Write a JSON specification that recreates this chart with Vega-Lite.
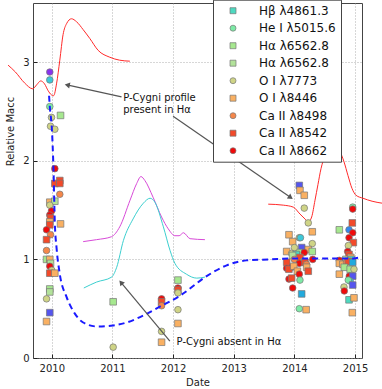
{
"$schema": "https://vega.github.io/schema/vega-lite/v6.json",
"width": 329, "height": 355,
"autosize": {"type": "none"},
"padding": {"left": 33, "top": 3, "right": 20, "bottom": 31},
"config": {
  "font": "DejaVu Sans",
  "view": {"stroke": "#444", "strokeWidth": 1},
  "axis": {"labelFont": "DejaVu Sans", "labelFontSize": 10, "labelColor": "#222", "titleFont": "DejaVu Sans", "titleFontSize": 10, "titleFontWeight": "normal", "titleColor": "#222", "domain": false, "tickSize": -4, "tickColor": "#222", "gridColor": "#999", "gridDash": [1, 2], "gridWidth": 0.8}
},
"datasets": {
  "points": [
    {"line":"HeI4471","date":2009.967,"value":2.90},
    {"line":"FeII","date":2009.967,"value":2.82},
    {"line":"HeI5015","date":2009.967,"value":2.55},
    {"line":"OI7773","date":2009.995,"value":2.44},
    {"line":"Ha","date":2010.144,"value":2.46},
    {"line":"OI7773","date":2009.979,"value":2.35},
    {"line":"OI7773","date":2010.05,"value":2.32},
    {"line":"CaII8662","date":2010.05,"value":1.92},
    {"line":"CaII8542","date":2010.05,"value":1.77},
    {"line":"CaII8542","date":2010.132,"value":1.80},
    {"line":"CaII8542","date":2010.132,"value":1.77},
    {"line":"CaII8498","date":2010.132,"value":1.66},
    {"line":"OI8446","date":2009.967,"value":1.58},
    {"line":"Ha2","date":2010.05,"value":1.59},
    {"line":"OI7773","date":2009.967,"value":1.55},
    {"line":"CaII8662","date":2009.995,"value":1.49},
    {"line":"CaII8662","date":2009.967,"value":1.45},
    {"line":"CaII8542","date":2009.979,"value":1.42},
    {"line":"OI8446","date":2009.967,"value":1.38},
    {"line":"CaII8542","date":2009.967,"value":1.35},
    {"line":"OI8446","date":2010.144,"value":1.36},
    {"line":"CaII8662","date":2009.913,"value":1.30},
    {"line":"CaII8498","date":2009.979,"value":1.25},
    {"line":"CaII8542","date":2009.913,"value":1.20},
    {"line":"CaII8498","date":2009.913,"value":1.09},
    {"line":"Ha","date":2009.913,"value":1.00},
    {"line":"OI8446","date":2009.967,"value":1.00},
    {"line":"Ha2","date":2009.979,"value":0.96},
    {"line":"CaII8662","date":2009.967,"value":0.93},
    {"line":"OI7773","date":2010.0,"value":0.89},
    {"line":"CaII8542","date":2009.967,"value":0.86},
    {"line":"OI8446","date":2010.05,"value":0.86},
    {"line":"Ha","date":2009.967,"value":0.70},
    {"line":"Ha2","date":2009.967,"value":0.67},
    {"line":"OI7773","date":2009.913,"value":0.60},
    {"line":"Hd","date":2009.967,"value":0.46},
    {"line":"OI8446","date":2009.913,"value":0.37},
    {"line":"Ha","date":2011.012,"value":0.57},
    {"line":"OI7773","date":2011.012,"value":0.11},
    {"line":"CaII8662","date":2011.81,"value":0.60},
    {"line":"CaII8542","date":2011.81,"value":0.57},
    {"line":"CaII8498","date":2011.81,"value":0.53},
    {"line":"OI7773","date":2011.81,"value":0.27},
    {"line":"OI8446","date":2011.81,"value":0.16},
    {"line":"Ha","date":2012.08,"value":0.79},
    {"line":"CaII8662","date":2012.08,"value":0.71},
    {"line":"CaII8542","date":2012.08,"value":0.69},
    {"line":"OI7773","date":2012.08,"value":0.66},
    {"line":"OI7773","date":2012.08,"value":0.49},
    {"line":"OI8446","date":2012.08,"value":0.35},
    {"line":"Hd","date":2014.081,"value":1.75},
    {"line":"OI8446","date":2014.092,"value":1.70},
    {"line":"OI8446","date":2014.163,"value":1.65},
    {"line":"OI7773","date":2014.163,"value":1.52},
    {"line":"OI7773","date":2014.229,"value":1.37},
    {"line":"OI8446","date":2014.295,"value":1.28},
    {"line":"OI8446","date":2013.911,"value":1.25},
    {"line":"OI7773","date":2014.081,"value":1.22},
    {"line":"FeII","date":2014.10,"value":1.22},
    {"line":"OI8446","date":2013.972,"value":1.18},
    {"line":"OI7773","date":2014.295,"value":1.16},
    {"line":"OI8446","date":2013.873,"value":1.08},
    {"line":"OI7773","date":2013.955,"value":1.06},
    {"line":"Hd","date":2014.12,"value":1.12},
    {"line":"Ha","date":2014.081,"value":1.07},
    {"line":"OI8446","date":2014.229,"value":1.10},
    {"line":"CaII8662","date":2014.163,"value":1.07},
    {"line":"Ha","date":2014.295,"value":1.08},
    {"line":"OI7773","date":2014.0,"value":1.12},
    {"line":"Hb","date":2014.03,"value":1.05},
    {"line":"Ha2","date":2013.97,"value":1.04},
    {"line":"CaII8542","date":2014.092,"value":1.02},
    {"line":"CaII8498","date":2014.0,"value":1.0},
    {"line":"HeI5015","date":2014.15,"value":0.98},
    {"line":"CaII8662","date":2014.081,"value":0.96},
    {"line":"CaII8542","date":2013.873,"value":0.97},
    {"line":"CaII8662","date":2013.955,"value":0.92},
    {"line":"CaII8662","date":2013.873,"value":0.91},
    {"line":"CaII8542","date":2013.91,"value":0.90},
    {"line":"OI8446","date":2013.99,"value":0.93},
    {"line":"CaII8542","date":2014.175,"value":0.97},
    {"line":"CaII8498","date":2014.2,"value":0.95},
    {"line":"CaII8662","date":2014.302,"value":1.00},
    {"line":"OI8446","date":2014.203,"value":0.92},
    {"line":"CaII8542","date":2014.229,"value":0.88},
    {"line":"OI8446","date":2014.05,"value":0.88},
    {"line":"CaII8662","date":2014.081,"value":0.85},
    {"line":"CaII8662","date":2013.911,"value":0.80},
    {"line":"CaII8542","date":2013.955,"value":0.81},
    {"line":"HeI5015","date":2014.092,"value":0.79},
    {"line":"CaII8662","date":2013.972,"value":0.71},
    {"line":"Hg","date":2014.12,"value":0.65},
    {"line":"HeI5015","date":2014.081,"value":0.50},
    {"line":"OI8446","date":2014.194,"value":0.49},
    {"line":"HeI5015","date":2014.962,"value":1.53},
    {"line":"CaII8662","date":2014.962,"value":1.51},
    {"line":"CaII8542","date":2014.955,"value":1.37},
    {"line":"Ha","date":2014.741,"value":1.30},
    {"line":"HeI4922","date":2014.901,"value":1.30},
    {"line":"CaII8662","date":2014.962,"value":1.27},
    {"line":"CaII8662","date":2014.901,"value":1.22},
    {"line":"CaII8542","date":2014.972,"value":1.17},
    {"line":"OI7773","date":2014.89,"value":1.14},
    {"line":"CaII8662","date":2014.879,"value":1.08},
    {"line":"CaII8542","date":2014.901,"value":1.05},
    {"line":"Ha2","date":2014.85,"value":1.0},
    {"line":"OI8446","date":2014.93,"value":1.02},
    {"line":"Hb","date":2014.94,"value":1.0},
    {"line":"CaII8662","date":2014.741,"value":0.99},
    {"line":"OI8446","date":2014.741,"value":0.96},
    {"line":"OI8446","date":2014.80,"value":0.95},
    {"line":"CaII8498","date":2014.86,"value":0.97},
    {"line":"CaII8542","date":2014.89,"value":0.98},
    {"line":"Ha","date":2014.823,"value":0.92},
    {"line":"Ha","date":2014.92,"value":0.90},
    {"line":"Hg","date":2014.962,"value":0.97},
    {"line":"OI7773","date":2014.983,"value":0.90},
    {"line":"OI8446","date":2014.741,"value":0.85},
    {"line":"CaII8662","date":2014.906,"value":0.83},
    {"line":"Hd","date":2014.962,"value":0.83},
    {"line":"FeII","date":2014.92,"value":0.78},
    {"line":"HeI5015","date":2014.889,"value":0.79},
    {"line":"Hd","date":2014.962,"value":0.74},
    {"line":"OI7773","date":2014.818,"value":0.72},
    {"line":"CaII8662","date":2014.823,"value":0.68},
    {"line":"Hb","date":2014.901,"value":0.59},
    {"line":"OI8446","date":2014.983,"value":0.61},
    {"line":"OI8446","date":2014.955,"value":0.46}
  ],
  "curves": [
    {"series":"red1","date":2009.279,"value":2.97},
    {"series":"red1","date":2009.40,"value":2.90},
    {"series":"red1","date":2009.55,"value":2.79},
    {"series":"red1","date":2009.686,"value":2.73},
    {"series":"red1","date":2009.75,"value":2.77},
    {"series":"red1","date":2009.818,"value":2.81},
    {"series":"red1","date":2009.88,"value":2.78},
    {"series":"red1","date":2009.94,"value":2.71},
    {"series":"red1","date":2009.99,"value":2.67},
    {"series":"red1","date":2010.03,"value":2.66},
    {"series":"red1","date":2010.078,"value":2.78},
    {"series":"red1","date":2010.132,"value":3.02},
    {"series":"red1","date":2010.186,"value":3.28},
    {"series":"red1","date":2010.243,"value":3.39},
    {"series":"red1","date":2010.325,"value":3.44},
    {"series":"red1","date":2010.408,"value":3.41},
    {"series":"red1","date":2010.517,"value":3.33},
    {"series":"red1","date":2010.627,"value":3.24},
    {"series":"red1","date":2010.764,"value":3.12},
    {"series":"red1","date":2010.957,"value":3.05},
    {"series":"red1","date":2011.12,"value":3.02},
    {"series":"red1","date":2011.287,"value":3.01},
    {"series":"red2","date":2013.569,"value":1.56},
    {"series":"red2","date":2013.817,"value":1.55},
    {"series":"red2","date":2013.982,"value":1.53},
    {"series":"red2","date":2014.092,"value":1.46},
    {"series":"red2","date":2014.175,"value":1.41},
    {"series":"red2","date":2014.229,"value":1.38},
    {"series":"red2","date":2014.285,"value":1.43},
    {"series":"red2","date":2014.34,"value":1.60},
    {"series":"red2","date":2014.389,"value":1.76},
    {"series":"red2","date":2014.439,"value":1.92},
    {"series":"red2","date":2014.505,"value":2.05},
    {"series":"red2","date":2014.587,"value":2.12},
    {"series":"red2","date":2014.67,"value":2.13},
    {"series":"red2","date":2014.752,"value":2.09},
    {"series":"red2","date":2014.818,"value":1.99},
    {"series":"red2","date":2014.884,"value":1.85},
    {"series":"red2","date":2014.95,"value":1.72},
    {"series":"red2","date":2015.017,"value":1.65},
    {"series":"red2","date":2015.132,"value":1.62},
    {"series":"red2","date":2015.281,"value":1.59},
    {"series":"red2","date":2015.446,"value":1.57},
    {"series":"magenta","date":2010.517,"value":1.18},
    {"series":"magenta","date":2010.738,"value":1.20},
    {"series":"magenta","date":2010.985,"value":1.23},
    {"series":"magenta","date":2011.12,"value":1.33},
    {"series":"magenta","date":2011.29,"value":1.60},
    {"series":"magenta","date":2011.40,"value":1.77},
    {"series":"magenta","date":2011.47,"value":1.84},
    {"series":"magenta","date":2011.535,"value":1.80},
    {"series":"magenta","date":2011.67,"value":1.63},
    {"series":"magenta","date":2011.81,"value":1.43},
    {"series":"magenta","date":2011.92,"value":1.31},
    {"series":"magenta","date":2012.03,"value":1.24},
    {"series":"magenta","date":2012.10,"value":1.24},
    {"series":"magenta","date":2012.17,"value":1.27},
    {"series":"magenta","date":2012.28,"value":1.21},
    {"series":"magenta","date":2012.525,"value":1.20},
    {"series":"cyan","date":2010.528,"value":0.71},
    {"series":"cyan","date":2010.738,"value":0.77},
    {"series":"cyan","date":2010.985,"value":0.82},
    {"series":"cyan","date":2011.07,"value":0.92},
    {"series":"cyan","date":2011.18,"value":1.19},
    {"series":"cyan","date":2011.34,"value":1.41},
    {"series":"cyan","date":2011.51,"value":1.57},
    {"series":"cyan","date":2011.62,"value":1.62},
    {"series":"cyan","date":2011.70,"value":1.58},
    {"series":"cyan","date":2011.84,"value":1.33},
    {"series":"cyan","date":2011.95,"value":1.09},
    {"series":"cyan","date":2012.03,"value":0.96},
    {"series":"cyan","date":2012.22,"value":0.85},
    {"series":"cyan","date":2012.39,"value":0.81},
    {"series":"cyan","date":2012.525,"value":0.82},
    {"series":"blue","date":2009.955,"value":2.66},
    {"series":"blue","date":2009.967,"value":2.55},
    {"series":"blue","date":2010.005,"value":2.28},
    {"series":"blue","date":2010.021,"value":2.04},
    {"series":"blue","date":2010.033,"value":1.80},
    {"series":"blue","date":2010.038,"value":1.65},
    {"series":"blue","date":2010.05,"value":1.37},
    {"series":"blue","date":2010.078,"value":1.12},
    {"series":"blue","date":2010.132,"value":0.85},
    {"series":"blue","date":2010.243,"value":0.62},
    {"series":"blue","date":2010.38,"value":0.45},
    {"series":"blue","date":2010.517,"value":0.36},
    {"series":"blue","date":2010.738,"value":0.32},
    {"series":"blue","date":2011.01,"value":0.33},
    {"series":"blue","date":2011.233,"value":0.36},
    {"series":"blue","date":2011.507,"value":0.43},
    {"series":"blue","date":2011.78,"value":0.52},
    {"series":"blue","date":2012.11,"value":0.63},
    {"series":"blue","date":2012.553,"value":0.83},
    {"series":"blue","date":2012.883,"value":0.94},
    {"series":"blue","date":2013.21,"value":0.99},
    {"series":"blue","date":2013.60,"value":1.0},
    {"series":"blue","date":2014.01,"value":1.01},
    {"series":"blue","date":2014.967,"value":1.01},
    {"series":"blue","date":2015.08,"value":1.02}
  ],
  "arrows": [
    {"id":"a1","date":2011.15,"value":2.648,"date2":2010.269,"value2":2.767},
    {"id":"a2","date":2012.0,"value":2.452,"date2":2013.927,"value2":1.633},
    {"id":"a3","date":2011.947,"value":0.171,"date2":2011.15,"value2":0.759}
  ],
  "notes": [
    {"label":"P-Cygni profile\npresent in Hα","date":2011.177,"value":2.635},
    {"label":"P-Cygni absent in Hα","date":2012.058,"value":0.16}
  ]
},
"encoding": {
  "x": {"field": "date", "type": "quantitative",
        "scale": {"domain": [2009.69, 2015.115], "nice": false, "zero": false},
        "axis": {"values": [2010, 2011, 2012, 2013, 2014, 2015], "format": "d", "title": "Date", "labelPadding": 9, "titleY": 24, "titleBaseline": "middle"}},
  "y": {"field": "value", "type": "quantitative",
        "scale": {"domain": [0, 3.6], "nice": false},
        "axis": {"values": [0, 1, 2, 3], "title": "Relative Macc", "labelPadding": 8, "titleX": -23, "titleY": 128, "titleBaseline": "middle", "titleAngle": 270}}
},
"layer": [
  {"data": {"name": "curves"}, "transform": [{"filter": "datum.series === 'red1' || datum.series === 'red2'"}],
   "mark": {"type": "line", "color": "#ff2a2a", "strokeWidth": 1, "interpolate": "monotone"},
   "encoding": {"detail": {"field": "series"}}},
  {"data": {"name": "curves"}, "transform": [{"filter": "datum.series === 'magenta'"}],
   "mark": {"type": "line", "color": "#d84ad8", "strokeWidth": 1, "interpolate": "monotone"}, "encoding": {}},
  {"data": {"name": "curves"}, "transform": [{"filter": "datum.series === 'cyan'"}],
   "mark": {"type": "line", "color": "#3ccfcf", "strokeWidth": 1, "interpolate": "monotone"}, "encoding": {}},
  {"data": {"name": "points"},
   "mark": {"type": "point", "filled": true, "size": 44, "opacity": 1, "stroke": "#777", "strokeWidth": 0.7},
   "encoding": {
     "color": {"field": "line", "type": "nominal",
       "scale": {"domain": ["Hb","HeI5015","Ha","Ha2","OI7773","OI8446","CaII8498","CaII8542","CaII8662","HeI4471","FeII","Hd","Hg","HeI4922"],
                 "range": ["#4dd9c0","#7deaa6","#a6e88f","#b2e29a","#cfd486","#f9b062","#f5874a","#f24a2a","#f00a0a","#8833ee","#3cc8d8","#5555ee","#22aadd","#3388ee"]},
       "legend": {"title": null, "orient": "none", "legendX": 180, "legendY": -3.3, "zindex": 0,
         "values": ["Hb","HeI5015","Ha","Ha2","OI7773","OI8446","CaII8498","CaII8542","CaII8662"],
         "labelExpr": "(datum.value === 'Hb' ? 'Hβ λ4861.3' : datum.value === 'HeI5015' ? 'He I λ5015.6' : datum.value === 'Ha' || datum.value === 'Ha2' ? 'Hα λ6562.8' : datum.value === 'OI7773' ? 'O I λ7773' : datum.value === 'OI8446' ? 'O I λ8446' : datum.value === 'CaII8498' ? 'Ca II λ8498' : datum.value === 'CaII8542' ? 'Ca II λ8542' : 'Ca II λ8662') + (datum.value === 'HeI5015' ? '\u2003\u2003' : '')",
         "strokeColor": "#444", "fillColor": "white", "padding": 5, "symbolOffset": 9, "labelOffset": 20,
         "labelFont": "DejaVu Sans", "labelFontSize": 12, "labelColor": "#111", "rowPadding": 5.5,
         "symbolSize": 36, "symbolStrokeColor": "#777", "symbolStrokeWidth": 0.7}},
     "shape": {"field": "line", "type": "nominal",
       "scale": {"domain": ["Hb","HeI5015","Ha","Ha2","OI7773","OI8446","CaII8498","CaII8542","CaII8662","HeI4471","FeII","Hd","Hg","HeI4922"],
                 "range": ["square","circle","square","square","circle","square","circle","square","circle","circle","circle","square","square","circle"]},
       "legend": {"title": null, "orient": "none", "legendX": 180, "legendY": -3.3, "zindex": 0,
         "values": ["Hb","HeI5015","Ha","Ha2","OI7773","OI8446","CaII8498","CaII8542","CaII8662"],
         "labelExpr": "(datum.value === 'Hb' ? 'Hβ λ4861.3' : datum.value === 'HeI5015' ? 'He I λ5015.6' : datum.value === 'Ha' || datum.value === 'Ha2' ? 'Hα λ6562.8' : datum.value === 'OI7773' ? 'O I λ7773' : datum.value === 'OI8446' ? 'O I λ8446' : datum.value === 'CaII8498' ? 'Ca II λ8498' : datum.value === 'CaII8542' ? 'Ca II λ8542' : 'Ca II λ8662') + (datum.value === 'HeI5015' ? '\u2003\u2003' : '')",
         "strokeColor": "#444", "fillColor": "white", "padding": 5, "symbolOffset": 9, "labelOffset": 20,
         "labelFont": "DejaVu Sans", "labelFontSize": 12, "labelColor": "#111", "rowPadding": 5.5,
         "symbolSize": 36, "symbolStrokeColor": "#777", "symbolStrokeWidth": 0.7}}
   }},
  {"data": {"name": "curves"}, "transform": [{"filter": "datum.series === 'blue'"}],
   "mark": {"type": "line", "color": "#1a1aff", "strokeWidth": 2, "strokeDash": [6, 4], "interpolate": "monotone"}, "encoding": {}},
  {"data": {"name": "arrows"},
   "mark": {"type": "rule", "color": "#555", "strokeWidth": 1.2},
   "encoding": {"x2": {"field": "date2"}, "y2": {"field": "value2"}}},
  {"data": {"name": "arrows"}, "transform": [{"filter": "datum.id === 'a1'"}],
   "mark": {"type": "point", "shape": "triangle", "filled": true, "color": "#555", "size": 35, "angle": 282, "opacity": 1},
   "encoding": {"x": {"field": "date2", "type": "quantitative"}, "y": {"field": "value2", "type": "quantitative"}}},
  {"data": {"name": "arrows"}, "transform": [{"filter": "datum.id === 'a2'"}],
   "mark": {"type": "point", "shape": "triangle", "filled": true, "color": "#555", "size": 35, "angle": 125, "opacity": 1},
   "encoding": {"x": {"field": "date2", "type": "quantitative"}, "y": {"field": "value2", "type": "quantitative"}}},
  {"data": {"name": "arrows"}, "transform": [{"filter": "datum.id === 'a3'"}],
   "mark": {"type": "point", "shape": "triangle", "filled": true, "color": "#555", "size": 35, "angle": 320, "opacity": 1},
   "encoding": {"x": {"field": "date2", "type": "quantitative"}, "y": {"field": "value2", "type": "quantitative"}}},
  {"data": {"name": "notes"},
   "mark": {"type": "text", "align": "left", "baseline": "middle", "fontSize": 10, "font": "DejaVu Sans", "color": "#111", "lineBreak": "\n", "lineHeight": 12},
   "encoding": {"text": {"field": "label"}}}
]
}
